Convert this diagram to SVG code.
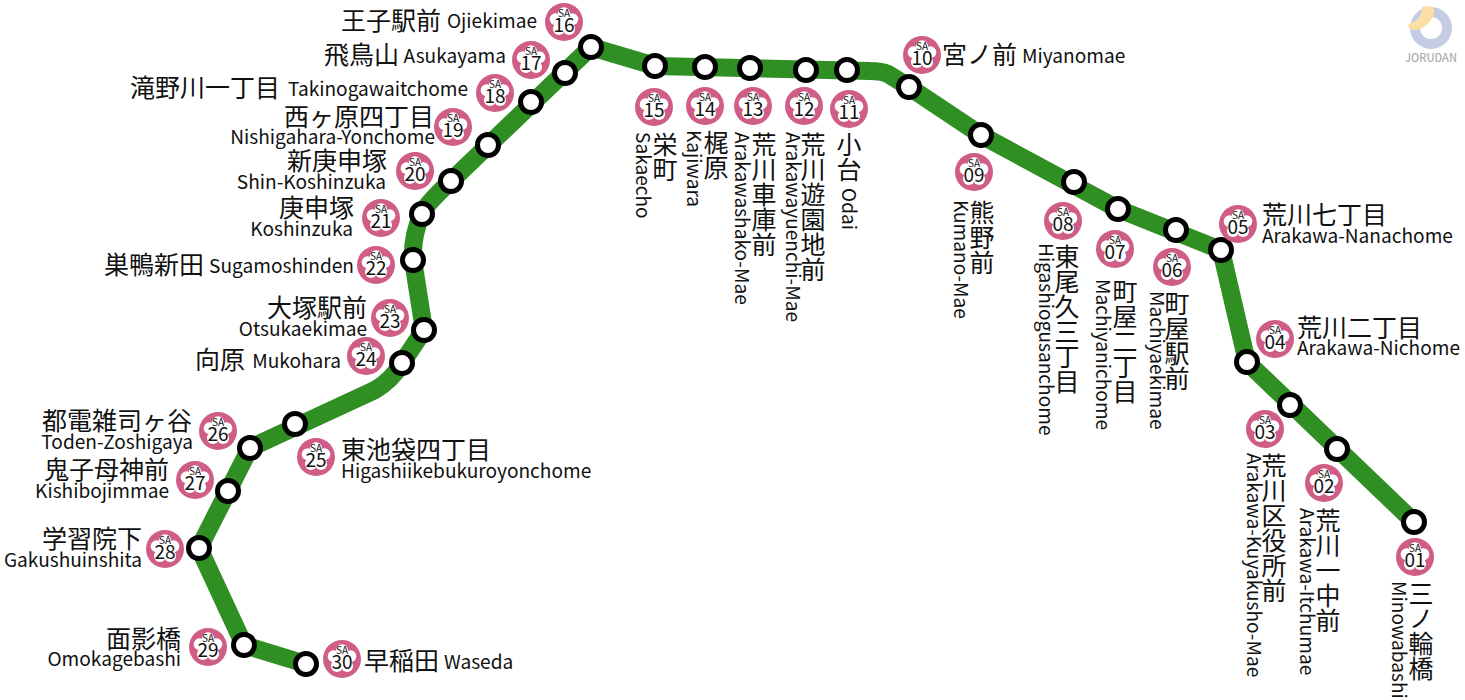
<svg xmlns="http://www.w3.org/2000/svg" width="1465" height="700" viewBox="0 0 1465 700">
<style>
text{font-family:"Noto Sans CJK JP","Noto Sans",sans-serif;fill:#111}
.j{font-size:25px}
.e{font-size:19.1px}
.v{font-size:25px;writing-mode:vertical-rl}
.sa{font-size:10px;text-anchor:middle}
.n{font-size:19px;text-anchor:middle}
.r{text-anchor:end}
.st{fill:#fff;stroke:#000;stroke-width:5}
</style>
<defs>
<g id="badge">
<circle r="19" fill="#cf5d86"/>
<g fill="#fff">
<circle r="10"/>
<circle cy="-8.7" r="6"/>
<circle cx="8.3" cy="-2.7" r="6"/>
<circle cx="5.1" cy="7" r="6"/>
<circle cx="-5.1" cy="7" r="6"/>
<circle cx="-8.3" cy="-2.7" r="6"/>
</g>
</g>
</defs>
<g id="logo">
<circle cx="1431" cy="28" r="16" fill="none" stroke="#c3cce4" stroke-width="10"/>
<path d="M1422,7C1427,5 1432,6 1434,9C1435,15 1431,22 1425,26C1420,30 1414,31 1410,29C1408,27 1408,24 1410,23C1416,22 1422,17 1422,7Z" fill="#fbdfa4"/>
<text x="1431" y="62" text-anchor="middle" style="font-size:11px;font-weight:500;fill:#adadad">JORUDAN</text>
</g>
<g id="connectors">
<path d="M1414,522L1247,362L1221,250L1118,209L981,135L909,87L888,74Q881,71 870,71L655,66L591,47L451,181Q425,205 422,214Q412,235 413,260L424,330L402,363Q392,380 375,390L250,448L199,548L244,645L306,664" fill="none" stroke="#2f8f22" stroke-width="18" stroke-linejoin="round"/>
</g>
<g id="stations">
<circle class="st" cx="1414" cy="522" r="10.5"/><circle class="st" cx="1337" cy="449" r="10.5"/><circle class="st" cx="1290" cy="405" r="10.5"/><circle class="st" cx="1247" cy="362" r="10.5"/><circle class="st" cx="1221" cy="250" r="10.5"/><circle class="st" cx="1176" cy="230" r="10.5"/><circle class="st" cx="1118" cy="209" r="10.5"/><circle class="st" cx="1074" cy="182" r="10.5"/><circle class="st" cx="981" cy="135" r="10.5"/><circle class="st" cx="909" cy="87" r="10.5"/><circle class="st" cx="847" cy="70" r="10.5"/><circle class="st" cx="806" cy="70" r="10.5"/><circle class="st" cx="750" cy="68" r="10.5"/><circle class="st" cx="705" cy="67" r="10.5"/><circle class="st" cx="655" cy="66" r="10.5"/><circle class="st" cx="591" cy="47" r="10.5"/><circle class="st" cx="565" cy="73" r="10.5"/><circle class="st" cx="531" cy="102" r="10.5"/><circle class="st" cx="488" cy="145" r="10.5"/><circle class="st" cx="451" cy="181" r="10.5"/><circle class="st" cx="422" cy="214" r="10.5"/><circle class="st" cx="413" cy="260" r="10.5"/><circle class="st" cx="424" cy="330" r="10.5"/><circle class="st" cx="402" cy="363" r="10.5"/><circle class="st" cx="295" cy="424" r="10.5"/><circle class="st" cx="250" cy="448" r="10.5"/><circle class="st" cx="228" cy="491" r="10.5"/><circle class="st" cx="199" cy="548" r="10.5"/><circle class="st" cx="244" cy="645" r="10.5"/><circle class="st" cx="306" cy="664" r="10.5"/>
</g>
<g id="n01"><use href="#badge" x="1415" y="557"/><text class="sa" x="1415" y="552">SA</text><text class="n" x="1415" y="567">01</text><text class="v" x="1421" y="581">三ノ輪橋</text><text class="e" transform="translate(1392,581) rotate(90)">Minowabashi</text></g>
<g id="n02"><use href="#badge" x="1324" y="483"/><text class="sa" x="1324" y="478">SA</text><text class="n" x="1324" y="493">02</text><text class="v" x="1328" y="508">荒川一中前</text><text class="e" transform="translate(1300,508) rotate(90)">Arakawa-Itchumae</text></g>
<g id="n03"><use href="#badge" x="1265" y="429"/><text class="sa" x="1265" y="424">SA</text><text class="n" x="1265" y="439">03</text><text class="v" x="1274" y="453">荒川区役所前</text><text class="e" transform="translate(1247,453) rotate(90)">Arakawa-Kuyakusho-Mae</text></g>
<g id="n04"><use href="#badge" x="1275" y="339"/><text class="sa" x="1275" y="334">SA</text><text class="n" x="1275" y="349">04</text><text class="j" x="1297" y="337">荒川二丁目</text><text class="e" x="1297" y="355">Arakawa-Nichome</text></g>
<g id="n05"><use href="#badge" x="1238" y="224"/><text class="sa" x="1238" y="219">SA</text><text class="n" x="1238" y="234">05</text><text class="j" x="1262" y="224">荒川七丁目</text><text class="e" x="1262" y="243">Arakawa-Nanachome</text></g>
<g id="n06"><use href="#badge" x="1172" y="267"/><text class="sa" x="1172" y="262">SA</text><text class="n" x="1172" y="277">06</text><text class="v" x="1177" y="291">町屋駅前</text><text class="e" transform="translate(1150,291) rotate(90)">Machiyaekimae</text></g>
<g id="n07"><use href="#badge" x="1115" y="249"/><text class="sa" x="1115" y="244">SA</text><text class="n" x="1115" y="259">07</text><text class="v" x="1125" y="279">町屋二丁目</text><text class="e" transform="translate(1096,279) rotate(90)">Machiyanichome</text></g>
<g id="n08"><use href="#badge" x="1063" y="221"/><text class="sa" x="1063" y="216">SA</text><text class="n" x="1063" y="231">08</text><text class="v" x="1067" y="244">東尾久三丁目</text><text class="e" transform="translate(1039,243) rotate(90)">Higashiogusanchome</text></g>
<g id="n09"><use href="#badge" x="974" y="172"/><text class="sa" x="974" y="167">SA</text><text class="n" x="974" y="182">09</text><text class="v" x="982" y="200">熊野前</text><text class="e" transform="translate(954,200) rotate(90)">Kumano-Mae</text></g>
<g id="n10"><use href="#badge" x="922" y="55"/><text class="sa" x="922" y="50">SA</text><text class="n" x="922" y="65">10</text><text class="j" x="942" y="64">宮ノ前</text><text class="e" x="1022" y="63">Miyanomae</text></g>
<g id="n11"><use href="#badge" x="849" y="109"/><text class="sa" x="849" y="104">SA</text><text class="n" x="849" y="119">11</text><text class="v" x="849" y="132">小台</text><text class="e" transform="translate(842,188) rotate(90)">Odai</text></g>
<g id="n12"><use href="#badge" x="804" y="106"/><text class="sa" x="804" y="101">SA</text><text class="n" x="804" y="116">12</text><text class="v" x="813" y="132">荒川遊園地前</text><text class="e" transform="translate(786,132) rotate(90)">Arakawayuenchi-Mae</text></g>
<g id="n13"><use href="#badge" x="753" y="106"/><text class="sa" x="753" y="101">SA</text><text class="n" x="753" y="116">13</text><text class="v" x="764" y="132">荒川車庫前</text><text class="e" transform="translate(735,132) rotate(90)">Arakawashako-Mae</text></g>
<g id="n14"><use href="#badge" x="705" y="106"/><text class="sa" x="705" y="101">SA</text><text class="n" x="705" y="116">14</text><text class="v" x="716" y="130">梶原</text><text class="e" transform="translate(687,130) rotate(90)">Kajiwara</text></g>
<g id="n15"><use href="#badge" x="654" y="107"/><text class="sa" x="654" y="102">SA</text><text class="n" x="654" y="117">15</text><text class="v" x="665" y="132">栄町</text><text class="e" transform="translate(636,132) rotate(90)">Sakaecho</text></g>
<g id="n16"><use href="#badge" x="564" y="22"/><text class="sa" x="564" y="17">SA</text><text class="n" x="564" y="32">16</text><text class="j r" x="441" y="30">王子駅前</text><text class="e r" x="537" y="28">Ojiekimae</text></g>
<g id="n17"><use href="#badge" x="531" y="60"/><text class="sa" x="531" y="55">SA</text><text class="n" x="531" y="70">17</text><text class="j r" x="399" y="64">飛鳥山</text><text class="e r" x="506" y="63">Asukayama</text></g>
<g id="n18"><use href="#badge" x="495" y="93"/><text class="sa" x="495" y="88">SA</text><text class="n" x="495" y="103">18</text><text class="j r" x="280" y="97">滝野川一丁目</text><text class="e r" x="468" y="96">Takinogawaitchome</text></g>
<g id="n19"><use href="#badge" x="453" y="127"/><text class="sa" x="453" y="122">SA</text><text class="n" x="453" y="137">19</text><text class="j r" x="434" y="126">西ヶ原四丁目</text><text class="e r" x="435" y="144">Nishigahara-Yonchome</text></g>
<g id="n20"><use href="#badge" x="415" y="171"/><text class="sa" x="415" y="166">SA</text><text class="n" x="415" y="181">20</text><text class="j r" x="387" y="170">新庚申塚</text><text class="e r" x="386" y="189">Shin-Koshinzuka</text></g>
<g id="n21"><use href="#badge" x="381" y="218"/><text class="sa" x="381" y="213">SA</text><text class="n" x="381" y="228">21</text><text class="j r" x="354" y="217">庚申塚</text><text class="e r" x="353" y="236">Koshinzuka</text></g>
<g id="n22"><use href="#badge" x="376" y="265"/><text class="sa" x="376" y="260">SA</text><text class="n" x="376" y="275">22</text><text class="j r" x="204" y="274">巣鴨新田</text><text class="e r" x="354" y="273">Sugamoshinden</text></g>
<g id="n23"><use href="#badge" x="390" y="318"/><text class="sa" x="390" y="313">SA</text><text class="n" x="390" y="328">23</text><text class="j r" x="367" y="317">大塚駅前</text><text class="e r" x="367" y="336">Otsukaekimae</text></g>
<g id="n24"><use href="#badge" x="366" y="356"/><text class="sa" x="366" y="351">SA</text><text class="n" x="366" y="366">24</text><text class="j r" x="245" y="369">向原</text><text class="e r" x="341" y="368">Mukohara</text></g>
<g id="n25"><use href="#badge" x="316" y="457"/><text class="sa" x="316" y="452">SA</text><text class="n" x="316" y="467">25</text><text class="j" x="341" y="459">東池袋四丁目</text><text class="e" x="341" y="478">Higashiikebukuroyonchome</text></g>
<g id="n26"><use href="#badge" x="218" y="431"/><text class="sa" x="218" y="426">SA</text><text class="n" x="218" y="441">26</text><text class="j r" x="192" y="430">都電雑司ヶ谷</text><text class="e r" x="193" y="449">Toden-Zoshigaya</text></g>
<g id="n27"><use href="#badge" x="195" y="480"/><text class="sa" x="195" y="475">SA</text><text class="n" x="195" y="490">27</text><text class="j r" x="169" y="479">鬼子母神前</text><text class="e r" x="169" y="498">Kishibojimmae</text></g>
<g id="n28"><use href="#badge" x="165" y="549"/><text class="sa" x="165" y="544">SA</text><text class="n" x="165" y="559">28</text><text class="j r" x="142" y="548">学習院下</text><text class="e r" x="142" y="567">Gakushuinshita</text></g>
<g id="n29"><use href="#badge" x="208" y="647"/><text class="sa" x="208" y="642">SA</text><text class="n" x="208" y="657">29</text><text class="j r" x="181" y="648">面影橋</text><text class="e r" x="181" y="666">Omokagebashi</text></g>
<g id="n30"><use href="#badge" x="342" y="659"/><text class="sa" x="342" y="654">SA</text><text class="n" x="342" y="669">30</text><text class="j" x="364" y="670">早稲田</text><text class="e" x="444" y="669">Waseda</text></g>
</svg>
